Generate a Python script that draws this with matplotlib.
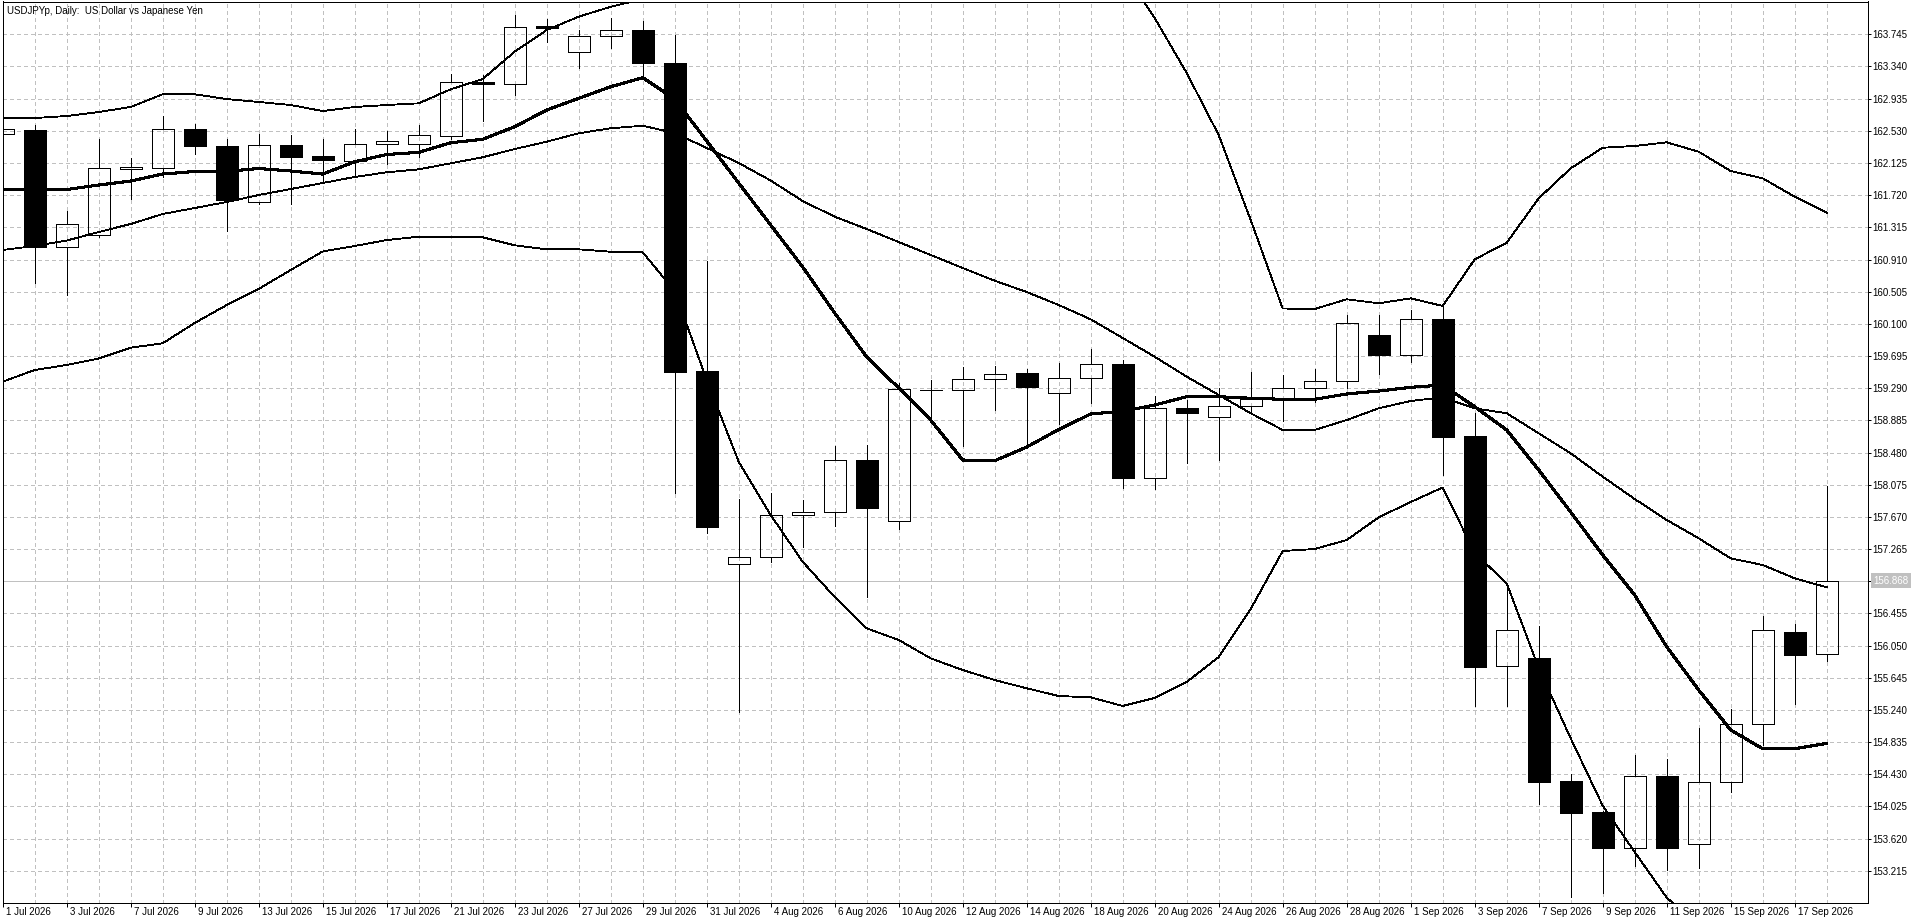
import matplotlib
matplotlib.use("Agg")
import matplotlib.pyplot as plt
import matplotlib.transforms as mtransforms
import numpy as np
import pandas as pd

plt.rcParams['font.family'] = ['Liberation Sans', 'DejaVu Sans']
plt.rcParams['font.size'] = 7
plt.rcParams['lines.antialiased'] = False
plt.rcParams['patch.antialiased'] = False

title = "USDJPYp, Daily:  US Dollar vs Japanese Yen"
dates = pd.bdate_range("2026-07-01", "2026-09-18")
last_price = 156.868

##  daily candles
opens = [162.486, 162.540, 161.064, 161.215, 162.045, 162.058, 162.553, 162.339, 161.630, 162.348,
         162.213, 162.146, 162.360, 162.360, 162.461, 163.141, 163.116, 163.850, 163.518, 163.720,
         163.795, 163.384, 159.506, 157.073, 157.161, 157.690, 157.727, 158.382, 157.618, 159.262,
         159.263, 159.402, 159.477, 159.225, 159.414, 159.594, 158.163, 159.040, 158.923, 159.066,
         159.163, 159.288, 159.377, 159.959, 159.711, 160.157, 158.688, 155.789, 155.893, 154.345,
         153.954, 153.497, 154.408, 153.548, 154.328, 155.059, 156.217, 155.940]
highs = [162.600, 162.603, 161.521, 162.427, 162.188, 162.717, 162.616, 162.427, 162.486, 162.477,
         162.427, 162.557, 162.528, 162.603, 163.245, 163.233, 163.988, 163.934, 163.799, 163.946,
         163.912, 163.736, 160.891, 157.895, 157.974, 157.882, 158.566, 158.575, 159.359, 159.393,
         159.553, 159.569, 159.531, 159.607, 159.783, 159.645, 159.192, 159.141, 159.296, 159.494,
         159.456, 159.528, 160.215, 160.215, 160.274, 160.337, 158.981, 156.771, 156.296, 154.433,
         153.970, 154.672, 154.622, 155.012, 155.251, 156.422, 156.321, 158.060]
lows = [162.440, 160.618, 160.467, 161.190, 161.668, 161.952, 162.238, 161.269, 161.610, 161.604,
        161.877, 161.978, 162.112, 162.196, 162.430, 162.658, 162.985, 163.644, 163.325, 163.577,
        163.211, 157.967, 157.462, 155.217, 157.105, 157.294, 157.555, 156.665, 157.513, 158.918,
        158.566, 159.015, 158.587, 158.839, 159.107, 158.037, 158.021, 158.352, 158.386, 158.994,
        158.881, 159.120, 159.288, 159.469, 159.623, 158.197, 155.289, 155.289, 154.055, 152.881,
        152.939, 153.275, 153.224, 153.253, 154.210, 154.794, 155.314, 155.859]
closes = [162.549, 161.071, 161.357, 162.058, 162.074, 162.549, 162.343, 161.659, 162.348, 162.204,
          162.159, 162.360, 162.398, 162.473, 163.141, 163.116, 163.833, 163.828, 163.720, 163.795,
          163.380, 159.497, 157.546, 157.161, 157.690, 157.727, 158.382, 157.785, 159.280, 159.270,
          159.402, 159.472, 159.305, 159.414, 159.591, 158.163, 159.037, 158.981, 159.066, 159.158,
          159.288, 159.377, 160.107, 159.711, 160.157, 158.679, 155.784, 156.242, 154.332, 153.942,
          153.505, 154.404, 153.505, 154.328, 155.059, 156.242, 155.935, 156.868]

##  moving average (thick) and bollinger bands (thin)
ma_line = [161.791, 161.791, 161.791, 161.848, 161.898, 161.986, 162.018, 162.018, 162.056, 162.024,
           161.986, 162.141, 162.232, 162.259, 162.380, 162.423, 162.582, 162.792, 162.939, 163.085,
           163.199, 162.930, 162.402, 161.873, 161.344, 160.816, 160.236, 159.683, 159.292, 158.889,
           158.386, 158.377, 158.549, 158.770, 158.965, 159.000, 159.078, 159.183, 159.183, 159.163,
           159.150, 159.150, 159.217, 159.254, 159.301, 159.330, 159.057, 158.764, 158.260, 157.731,
           157.190, 156.686, 156.035, 155.490, 154.987, 154.751, 154.751, 154.819]
bb_mid = [161.030, 161.080, 161.149, 161.256, 161.357, 161.483, 161.558, 161.634, 161.722, 161.797,
          161.873, 161.949, 162.008, 162.045, 162.121, 162.197, 162.301, 162.393, 162.499, 162.562,
          162.594, 162.502, 162.314, 162.125, 161.904, 161.646, 161.449, 161.294, 161.130, 160.967,
          160.803, 160.643, 160.501, 160.337, 160.157, 159.922, 159.686, 159.435, 159.204, 158.974,
          158.764, 158.764, 158.889, 159.037, 159.129, 159.175, 159.037, 158.974, 158.722, 158.470,
          158.176, 157.895, 157.631, 157.400, 157.148, 157.064, 156.897, 156.783]
bb_up = [162.691, 162.691, 162.716, 162.767, 162.830, 162.990, 162.990, 162.930, 162.893, 162.855,
         162.779, 162.830, 162.855, 162.876, 163.053, 163.182, 163.526, 163.799, 163.967, 164.092,
         164.188, 164.492, 165.234, 165.885, 166.116, 166.187, 166.236, 166.317, 166.141, 166.040,
         165.864, 165.670, 165.486, 165.259, 164.916, 164.554, 163.950, 163.258, 162.477, 161.407,
         160.293, 160.287, 160.409, 160.359, 160.421, 160.325, 160.912, 161.121, 161.680, 162.058,
         162.317, 162.339, 162.385, 162.267, 162.024, 161.932, 161.701, 161.499]
bb_low = [159.372, 159.519, 159.582, 159.664, 159.800, 159.855, 160.111, 160.337, 160.539, 160.778,
          161.011, 161.080, 161.155, 161.197, 161.197, 161.189, 161.089, 161.038, 161.038, 161.008,
          161.001, 160.513, 159.393, 158.364, 157.693, 157.105, 156.661, 156.267, 156.120, 155.889,
          155.742, 155.616, 155.512, 155.415, 155.398, 155.289, 155.390, 155.591, 155.906, 156.510,
          157.240, 157.265, 157.379, 157.664, 157.857, 158.040, 157.215, 156.834, 155.767, 154.882,
          154.034, 153.451, 152.876, 152.533, 152.273, 152.196, 152.093, 152.067]

o = np.array(opens)
h = np.array(highs)
l = np.array(lows)
c = np.array(closes)
idx = np.arange(len(dates))
up = c >= o
body_lo = np.minimum(o, c)
body_hi = np.maximum(o, c)

lw1 = 0.72      # one pixel, in points

fig = plt.figure(figsize=(19.2, 9.23), dpi=100)
ax = fig.add_axes([2.5/1920, 20/923, 1865/1920, 901.5/923])

ax.set_xlim(-0.006, 58.275)
ax.set_ylim(152.809, 164.158)

##  grid, price line
ax.set_xticks(idx, minor=True)
ax.grid(which='both', color='#c0c0c0', linestyle=(0, (4, 3)), linewidth=lw1, zorder=0)
ax.set_axisbelow(True)
ax.axhline(last_price, color='#c0c0c0', lw=lw1, zorder=1)

##  indicators
ax.plot(idx, bb_up, color='black', lw=0.6, zorder=2)
ax.plot(idx, bb_mid, color='black', lw=0.6, zorder=2)
ax.plot(idx, bb_low, color='black', lw=0.6, zorder=2)
ax.plot(idx, ma_line, color='black', lw=1.5, zorder=2)

##  candles
ax.vlines(idx, body_hi, h, color='black', lw=lw1, zorder=3)
ax.vlines(idx, l, body_lo, color='black', lw=lw1, zorder=3)
ax.bar(idx[up], (body_hi - body_lo)[up], bottom=body_lo[up], width=0.69,
       color='none', edgecolor='black', linewidth=lw1, zorder=4)
ax.bar(idx[~up], (body_hi - body_lo)[~up], bottom=body_lo[~up], width=0.69,
       color='black', edgecolor='black', linewidth=lw1, zorder=4)

##  axes
for s in ax.spines.values():
    s.set_linewidth(lw1)
    s.set_color('black')

yt = np.arange(153.215, 164.0, 0.405)
ax.yaxis.tick_right()
ax.set_yticks(yt, ["%.3f" % v for v in yt])
ax.tick_params(axis='y', which='major', direction='out', length=2.2, width=lw1, pad=1.1, labelsize=7)

xlab = [f"{d.day} {d.strftime('%b %Y')}" for d in dates[::2]]
ax.set_xticks(idx[::2], xlab)
ax.tick_params(axis='x', which='major', direction='out', length=2.9, width=lw1, pad=0.3, labelsize=7)
ax.tick_params(which='minor', length=0)
shift = mtransforms.ScaledTranslation(3/100, 0, fig.dpi_scale_trans)
for lab in ax.get_xticklabels():
    lab.set_ha('left')
    lab.set_transform(lab.get_transform() + shift)

##  current price tag
ax.annotate("%.3f" % last_price, xy=(1, last_price), xycoords=('axes fraction', 'data'),
            xytext=(5.5, 0), textcoords='offset pixels', ha='left', va='center',
            color='white', fontsize=7,
            bbox=dict(boxstyle='square,pad=0.25', fc='#c0c0c0', ec='none'))

fig.text(7/1920, 1 - 13.5/923, title, ha='left', va='baseline', fontsize=7)

fig.savefig("out.png", dpi=100, facecolor='white')
